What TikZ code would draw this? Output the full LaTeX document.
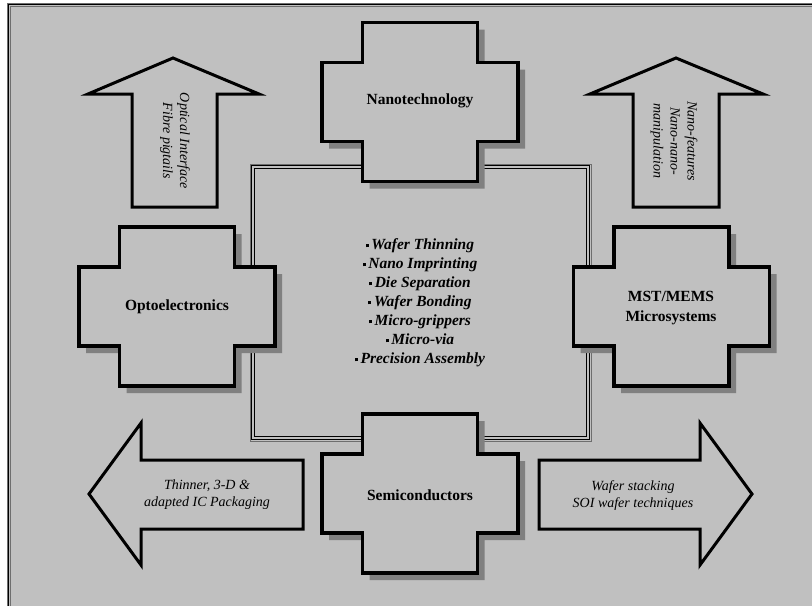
\documentclass[tikz,border=0pt]{standalone}
\usepackage{fontspec}
\setmainfont{Liberation Serif}

\definecolor{panelgrey}{HTML}{C0C0C0}
\definecolor{shadowgrey}{HTML}{808080}
\definecolor{rimgrey}{HTML}{6E6E6E}

% plus shaped box, centred on the origin
\newcommand{\crossshape}{(-57.5,-79.5) -- (57.5,-79.5) -- (57.5,-39.5) -- (98,-39.5) -- (98,39.5) -- (57.5,39.5) -- (57.5,79.5) -- (-57.5,79.5) -- (-57.5,39.5) -- (-98,39.5) -- (-98,-39.5) -- (-57.5,-39.5) -- cycle}
\newcommand{\bul}{\raisebox{0.35ex}{\rule{3pt}{3pt}}\,}

\begin{document}
\begin{tikzpicture}[x=1pt, y=-1pt,
    crossline/.style={draw=black, fill=panelgrey, line width=3.5pt, line join=miter},
    arrowline/.style={draw=black, fill=panelgrey, line width=3pt, line join=miter},
    crosslabel/.style={font=\fontsize{15.5}{20}\selectfont\bfseries, align=center, inner sep=0pt},
    sidetext/.style={font=\fontsize{14}{17}\selectfont\itshape, align=center, inner sep=0pt},
    listtext/.style={font=\fontsize{15.5}{19}\selectfont\bfseries\itshape, align=center, inner sep=0pt}]
    \useasboundingbox (0,0) rectangle (812,606);

    % Background and frame
    \fill[white] (0,0) rectangle (812,606);
    \fill[panelgrey] (8,4) rectangle (812,606);
    \draw[rimgrey, line width=1pt] (7,606) |- (812,3);
    \draw[black, line width=1.5pt] (8.6,606) |- (812,4.6);
    \draw[rimgrey, line width=0.8pt] (10.2,606) |- (812,6.2);

    % Arrows
    \filldraw[arrowline] (173,58) -- (259,94) -- (217,94) -- (217,207) -- (132,207) -- (132,94) -- (88,94) -- cycle;
    \filldraw[arrowline] (676,58) -- (763,94) -- (719,94) -- (719,207) -- (633,207) -- (633,94) -- (590,94) -- cycle;
    \filldraw[arrowline] (89,494) -- (141,423) -- (141,460) -- (303,460) -- (303,529) -- (141,529) -- (141,565) -- cycle;
    \filldraw[arrowline] (752,494) -- (700,423) -- (700,460) -- (539,460) -- (539,529) -- (700,529) -- (700,565) -- cycle;

    % Inner frame
    \draw[rimgrey, line width=1pt] (250,164) rectangle (591,441);
    \draw[black, line width=1pt] (251.8,165.8) rectangle (589.2,439.2);
    \draw[black, line width=1pt] (254.2,168.2) rectangle (586.8,436.8);

    % Crosses with shadows
    \foreach \cx/\cy in {420/102, 177/306.5, 671.5/306.5, 420/493.5} {
        \fill[shadowgrey, shift={(\cx+7,\cy+7)}] \crossshape;
        \filldraw[crossline, shift={(\cx,\cy)}] \crossshape;
    }

    % Labels
    \node[crosslabel] (nano) at (420,101) {Nanotechnology};
    \node[crosslabel] (opto) at (177,307) {Optoelectronics};
    \node[crosslabel] (mems) at (671,308) {MST/MEMS\\Microsystems};
    \node[crosslabel] (semi) at (420,495) {Semiconductors};

    \node[sidetext, rotate=-90] (optic) at (175,141) {Optical Interface\\Fibre pigtails};
    \node[sidetext, rotate=-90] (nanof) at (674,141) {Nano-features\\Nano-nano-\\manipulation};
    \node[sidetext] (packg) at (207,495) {Thinner, 3-D \&\\adapted IC Packaging};
    \node[sidetext] (stack) at (633,496) {Wafer stacking\\SOI wafer techniques};

    \node[listtext] (tasks) at (420,303) {\bul Wafer Thinning\\\bul Nano Imprinting\\\bul Die Separation\\\bul Wafer Bonding\\\bul Micro-grippers\\\bul Micro-via\\\bul Precision Assembly};
\end{tikzpicture}
\end{document}
